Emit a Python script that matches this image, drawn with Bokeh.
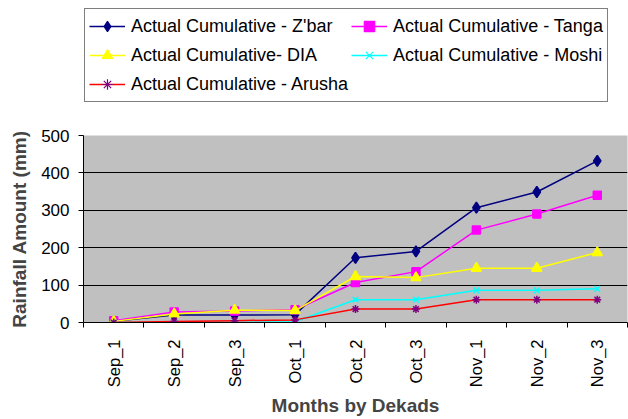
from math import pi
from bokeh.plotting import figure
from bokeh.layouts import column
from bokeh.models import Range1d, LinearAxis, FixedTicker, Legend, LegendItem, ColumnDataSource
from bokeh.embed import file_html
from bokeh.resources import INLINE

categories = ["Sep_1", "Sep_2", "Sep_3", "Oct_1", "Oct_2", "Oct_3", "Nov_1", "Nov_2", "Nov_3"]
zbar = [3, 20, 20, 21, 173, 190, 307, 349, 432]
tanga = [5, 28, 31, 34, 107, 136, 247, 290, 340]
dia = [3, 23, 33, 32, 123, 120, 145, 145, 187]
moshi = [0, 0, 0, 2, 61, 61, 86, 86, 90]
arusha = [0, 3, 5, 7, 36, 36, 61, 61, 61]
y_ticks = [0, 100, 200, 300, 400, 500]
grid_ticks = [100, 200, 300, 400]

series = [
    ("Actual Cumulative - Z'bar", zbar, "#000080", "diamond", "#000080", 11),
    ("Actual Cumulative - Tanga", tanga, "#ff00ff", "square", "#ff00ff", 8),
    ("Actual Cumulative- DIA", dia, "#ffff00", "triangle", "#ffff00", 10),
    ("Actual Cumulative - Moshi", moshi, "#00ffff", "x", "#00ffff", 8),
    ("Actual Cumulative - Arusha", arusha, "#ff0000", "asterisk", "#800080", 8),
]

FONT = "Liberation Sans"
n = len(categories)
xs = list(range(n))

# ---------------- main chart ----------------
p = figure(width=628, height=294, output_backend="svg", toolbar_location=None,
           x_range=Range1d(-0.5, n - 0.5), y_range=Range1d(y_ticks[0], y_ticks[-1]),
           x_axis_type=None, min_border_left=83, min_border_top=10,
           min_border_bottom=96, min_border_right=1)
p.background_fill_color = "#c0c0c0"
p.border_fill_color = "white"
p.outline_line_color = None

yax = p.yaxis[0]
yax.ticker = FixedTicker(ticks=y_ticks)
yax.axis_label = "Rainfall Amount (mm)"
yax.axis_label_text_font = FONT
yax.axis_label_text_font_style = "bold"
yax.axis_label_text_font_size = "19px"
yax.axis_label_standoff = 8
yax.major_label_text_font = FONT
yax.major_label_text_font_size = "17px"
yax.major_label_text_color = "black"
yax.major_label_standoff = 9
yax.major_tick_in = 0
yax.major_tick_out = 5
yax.minor_tick_line_color = None
yax.axis_line_color = "black"
yax.major_tick_line_color = "black"

p.ygrid.ticker = FixedTicker(ticks=grid_ticks)
p.ygrid.grid_line_color = "black"
p.ygrid.grid_line_width = 1
p.xgrid.grid_line_color = None

# x axis: tick marks between categories
bticks = [i - 0.5 for i in range(n + 1)]
bax = LinearAxis(ticker=FixedTicker(ticks=bticks),
                 major_label_overrides={t: "" for t in bticks},
                 major_label_text_font_size="0px", major_label_standoff=0,
                 major_tick_in=0, major_tick_out=5, minor_tick_line_color=None,
                 axis_line_color="black", major_tick_line_color="black")
p.add_layout(bax, "below")

# x axis: category labels at centres
lax = LinearAxis(ticker=FixedTicker(ticks=xs),
                 major_label_overrides={i: c for i, c in zip(xs, categories)},
                 major_label_orientation=pi / 2,
                 major_label_text_font=FONT, major_label_text_font_size="16.5px",
                 major_label_text_color="black", major_label_standoff=6,
                 major_tick_line_color=None, minor_tick_line_color=None,
                 axis_line_color=None,
                 axis_label="Months by Dekads", axis_label_text_font=FONT,
                 axis_label_text_font_style="bold", axis_label_text_font_size="19px",
                 axis_label_standoff=5)
p.add_layout(lax, "below")

for name, vals, lc, marker, mc, size in series:
    src = ColumnDataSource(dict(x=xs, y=vals))
    p.line("x", "y", source=src, line_color=lc, line_width=1.5)
    p.scatter("x", "y", source=src, marker=marker, size=size,
              fill_color=mc, line_color=mc, line_width=1.5)

# ---------------- legend panel (same series, ranges kept off the data) ----------------
lg = figure(width=628, height=125, output_backend="svg", toolbar_location=None,
            x_range=Range1d(0, 1), y_range=Range1d(-2, -1),
            x_axis_type=None, y_axis_type=None, min_border=0)
lg.outline_line_color = None
lg.background_fill_color = "white"
lg.border_fill_color = "white"

items = []
for name, vals, lc, marker, mc, size in series:
    src = ColumnDataSource(dict(x=xs, y=vals))
    r1 = lg.line("x", "y", source=src, line_color=lc, line_width=1.5)
    r2 = lg.scatter("x", "y", source=src, marker=marker, size=size - 2,
                    fill_color=mc, line_color=mc, line_width=1.2)
    items.append(LegendItem(label=name, renderers=[r1, r2]))

legend = Legend(items=items, location=(1, 23), orientation="horizontal", ncols=2,
                label_text_font=FONT, label_text_font_size="18px",
                label_text_color="black", glyph_width=36, glyph_height=26,
                label_height=26, label_standoff=6, spacing=3, padding=4, margin=0,
                border_line_color="black", border_line_width=1,
                background_fill_color="white", background_fill_alpha=1)
lg.add_layout(legend)

layout = column(lg, p, spacing=0)
open("out.html", "w").write(file_html(layout, INLINE))
